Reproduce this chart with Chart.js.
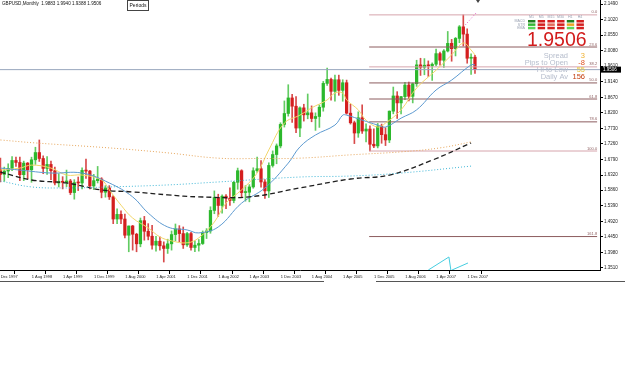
<!DOCTYPE html>
<html>
<head>
<meta charset="utf-8">
<script src="https://cdn.jsdelivr.net/npm/chart.js@4.4.1/dist/chart.umd.min.js"></script>
<style>
html, body { margin: 0; padding: 0; background: #fff; }
canvas { display: block; }
</style>
</head>
<body>
<canvas id="chart" width="625" height="391"></canvas>
<script>
// GBPUSD monthly bars, bar 0 = Dec 1997 ... bar 122 = Feb 2008
var opens = [1.6480,1.6340,1.6440,1.6520,1.6760,1.6700,1.6330,1.6680,1.6480,1.6780,1.7000,1.6820,1.6520,
  1.6640,1.6450,1.6080,1.6120,1.6100,1.6140,1.5790,1.6090,1.6080,1.6460,1.6440,1.5990,
  1.6150,1.6200,1.5800,1.5930,1.5660,1.4990,1.5130,1.4990,1.4500,1.4780,1.4530,1.4240,
  1.4940,1.4620,1.4470,1.4200,1.4320,1.4180,1.4100,1.4240,1.4520,1.4690,1.4550,1.4210,
  1.4550,1.4130,1.4200,1.4250,1.4580,1.4630,1.5250,1.5640,1.5400,1.5680,1.5620,1.5550,
  1.6100,1.6450,1.5790,1.5800,1.5960,1.6450,1.6510,1.6110,1.5840,1.6610,1.6940,1.7200,
  1.7850,1.8180,1.8650,1.8400,1.7740,1.8350,1.8140,1.8200,1.8030,1.8090,1.8370,1.9090,
  1.9210,1.8850,1.9200,1.8880,1.9110,1.8190,1.7900,1.7590,1.8050,1.7650,1.7710,1.7250,
  1.7200,1.7800,1.7540,1.7380,1.8250,1.8710,1.8500,1.8690,1.9040,1.8700,1.9080,1.9650,
  1.9580,1.9640,1.9620,1.9670,1.9990,1.9790,2.0070,2.0300,2.0140,2.0450,2.0800,2.0580,
  1.9850,1.9883];
var highs = [1.6830,1.6560,1.6660,1.6880,1.6860,1.6860,1.6740,1.6700,1.6860,1.7160,1.7380,1.6900,1.6880,
  1.6740,1.6560,1.6360,1.6270,1.6470,1.6190,1.6180,1.6260,1.6540,1.6800,1.6460,1.6340,
  1.6580,1.6240,1.6000,1.6000,1.5700,1.5300,1.5240,1.5140,1.4780,1.4800,1.4560,1.5020,
  1.5070,1.4850,1.4800,1.4470,1.4450,1.4300,1.4380,1.4630,1.4840,1.4790,1.4750,1.4590,
  1.4590,1.4330,1.4370,1.4630,1.4700,1.5360,1.5840,1.5740,1.5720,1.5730,1.5930,1.6130,
  1.6530,1.6480,1.6000,1.6030,1.6540,1.6860,1.6760,1.6180,1.6690,1.7050,1.7260,1.7900,
  1.8560,1.9050,1.8760,1.8690,1.8380,1.8460,1.8770,1.8410,1.8200,1.8440,1.9150,1.9550,
  1.9250,1.9340,1.9340,1.9200,1.9190,1.8460,1.7950,1.8230,1.8440,1.7870,1.7810,1.7720,
  1.7880,1.7860,1.7750,1.8260,1.8980,1.8840,1.8700,1.9120,1.9130,1.9100,1.9790,1.9850,
  1.9840,1.9770,1.9710,2.0130,2.0040,2.0110,2.0660,2.0420,2.0480,2.0840,2.1161,2.0740,
  1.9980,1.9940];
var lows = [1.6110,1.6130,1.6240,1.6450,1.6580,1.6150,1.6150,1.6210,1.6100,1.6640,1.6730,1.6360,1.6340,
  1.6180,1.6020,1.5960,1.5900,1.5970,1.5730,1.5590,1.5850,1.5900,1.6220,1.5900,1.5880,
  1.6080,1.5630,1.5650,1.5580,1.4850,1.4850,1.4850,1.4420,1.4000,1.4050,1.4000,1.4150,
  1.4350,1.4360,1.4080,1.4020,1.4050,1.3690,1.3950,1.4050,1.4330,1.4300,1.4100,1.4160,
  1.4050,1.4000,1.4020,1.4220,1.4400,1.4560,1.5150,1.5070,1.5170,1.5300,1.5400,1.5480,
  1.5890,1.5660,1.5530,1.5510,1.5920,1.6400,1.5950,1.5610,1.5640,1.6560,1.6660,1.7140,
  1.7770,1.8100,1.7910,1.7600,1.7480,1.7950,1.8020,1.7930,1.7670,1.7760,1.8250,1.9030,
  1.8580,1.8550,1.8730,1.8550,1.8160,1.7860,1.7270,1.7460,1.7580,1.7320,1.7046,1.7150,
  1.7140,1.7280,1.7210,1.7300,1.8170,1.8030,1.8170,1.8600,1.8560,1.8500,1.9000,1.9330,
  1.9350,1.9300,1.9180,1.9620,1.9640,1.9570,2.0040,1.9760,1.9920,2.0320,2.0220,1.9700,
  1.9360,1.9388];
var closes = [1.6340,1.6440,1.6520,1.6760,1.6700,1.6330,1.6680,1.6480,1.6780,1.7000,1.6820,1.6520,1.6640,
  1.6450,1.6080,1.6120,1.6100,1.6140,1.5790,1.6090,1.6080,1.6460,1.6440,1.5990,1.6150,
  1.6200,1.5800,1.5930,1.5660,1.4990,1.5130,1.4990,1.4500,1.4780,1.4530,1.4240,1.4940,
  1.4620,1.4470,1.4200,1.4320,1.4180,1.4100,1.4240,1.4520,1.4690,1.4550,1.4210,1.4550,
  1.4130,1.4200,1.4250,1.4580,1.4630,1.5250,1.5640,1.5400,1.5680,1.5620,1.5550,1.6100,
  1.6450,1.5790,1.5800,1.5960,1.6450,1.6510,1.6110,1.5840,1.6610,1.6940,1.7200,1.7850,
  1.8180,1.8650,1.8400,1.7740,1.8350,1.8140,1.8200,1.8030,1.8090,1.8370,1.9090,1.9210,
  1.8850,1.9200,1.8880,1.9110,1.8190,1.7900,1.7590,1.8050,1.7650,1.7710,1.7250,1.7200,
  1.7800,1.7540,1.7380,1.8250,1.8710,1.8500,1.8690,1.9040,1.8700,1.9080,1.9650,1.9580,
  1.9640,1.9620,1.9670,1.9990,1.9790,2.0070,2.0300,2.0140,2.0450,2.0800,2.0580,1.9850,
  1.9880,1.9506];

var xTickLabels = ['Dec 1997','1 Aug 1998','1 Apr 1999','1 Dec 1999','1 Aug 2000','1 Apr 2001','1 Dec 2001',
  '1 Aug 2002','1 Apr 2003','1 Dec 2003','1 Aug 2004','1 Apr 2005','1 Dec 2005','1 Aug 2006','1 Apr 2007','1 Dec 2007'];
var xTickBars = [0,8,16,24,32,40,48,56,64,72,80,88,96,104,112,120];
var yTickValues = [2.1490,2.1020,2.0550,2.0080,1.9610,1.9140,1.8670,1.8200,1.7730,1.7260,1.6790,
  1.6320,1.5860,1.5390,1.4920,1.4450,1.3980,1.3510];

// moving averages (bar index, price)
var fastMaBars = [0,5,8,13,17,21,26,28,31,34,38,41,44,48,51,55,58,62,66,69,73,77,80,84,86,88,89,92,94,97,99,103,107,112,116,119,121,122];
var fastMaVals = [1.647,1.653,1.662,1.653,1.632,1.632,1.617,1.587,1.541,1.502,1.472,1.445,1.433,1.427,1.442,1.490,1.547,1.587,1.638,1.708,1.789,1.813,1.835,1.859,1.880,1.880,1.859,1.829,1.798,1.777,1.789,1.829,1.895,1.949,1.995,2.031,2.010,1.995];
var midMaBars = [0,5,13,21,28,34,38,43,48,51,56,62,68,74,77,81,86,88,89,93,97,99,103,107,112,116,121,122];
var midMaVals = [1.653,1.647,1.638,1.638,1.608,1.566,1.517,1.475,1.466,1.457,1.475,1.547,1.593,1.668,1.717,1.753,1.783,1.813,1.813,1.798,1.783,1.777,1.804,1.829,1.889,1.919,1.965,1.965];
var slowMaBars = [0,8,17,26,34,43,51,64,77,90,100,111,121];
var slowMaVals = [1.641,1.617,1.608,1.587,1.581,1.572,1.566,1.566,1.593,1.620,1.632,1.677,1.729];
var orangeMaBars = [0,9,28,43,56,67,77,90,103,113,121];
var orangeMaVals = [1.738,1.729,1.714,1.699,1.683,1.682,1.683,1.693,1.702,1.714,1.732];
var cyanMaBars = [0,8,17,28,43,56,77,90,103,121];
var cyanMaVals = [1.614,1.596,1.593,1.596,1.602,1.611,1.626,1.629,1.638,1.659];
var trendBars = [119.5,122.5];
var trendVals = [2.0855,2.1248];
var scribbleBars = [110,115.3,115.8,116,116.1,120.2];
var scribbleVals = [1.3449,1.3842,1.3449,null,1.3449,1.3661];

// fibonacci from the Nov 2005 low to the Nov 2007 high
var fibNames = ['0.0','23.6','38.2','50.0','61.8','78.6','100.0','161.8'];
var fibPrices = [2.1161,2.0190,1.9589,1.9104,1.8618,1.7927,1.7046,1.4460];
var fibFrom = 94.8, fibTo = 153.4;

var bidPrice = 1.9506;
var headerText = 'GBPUSD,Monthly  1.9883 1.9940 1.9388 1.9506';
var frames = ['M1','M5','M15','M30','H1','H4'];
var signalRows = ['MACD','STR','EMA'];
var signalColors = [
  ['#1f7f1f','#d42020','#d42020','#d42020','#1f7f1f','#d42020'],
  ['#34b834','#d42020','#e26a5a','#d42020','#eaa624','#d42020'],
  ['#5cd85c','#d42020','#d42020','#d42020','#5cd85c','#d42020']
];
var statNames = ['Spread','Pips to Open','Hi to Low','Daily Av'];
var statValues = ['3','-8','55','156'];
var statColors = ['#f0b030','#e05020','#e8c840','#c44010'];

Chart.defaults.font.family = '"Liberation Sans", Arial, sans-serif';

function pts(xs, ys) {
  return xs.map(function (x, i) { return { x: x, y: ys[i] }; });
}

var bodyColors = opens.map(function (o, i) { return closes[i] >= o ? '#2cb82c' : '#d41f1f'; });
var wickColors = opens.map(function (o, i) { return closes[i] >= o ? '#62cc62' : '#d84a4a'; });

var datasets = [
  {
    type: 'bar', order: 6, grouped: false, barThickness: 1,
    data: lows.map(function (l, i) { return { x: i, y: [l, highs[i]] }; }),
    backgroundColor: wickColors
  },
  {
    type: 'bar', order: 5, grouped: false, barThickness: 2.6, minBarLength: 1,
    data: opens.map(function (o, i) { return { x: i, y: [o, closes[i]] }; }),
    backgroundColor: bodyColors
  },
  { type: 'line', order: 1, data: [{ x: -1, y: bidPrice }, { x: 160, y: bidPrice }], borderColor: '#97a6bd', borderWidth: 1 },
  { type: 'line', order: 0, data: pts(orangeMaBars, orangeMaVals), borderColor: '#e6a55a', borderWidth: 1, borderDash: [1, 2], tension: 0.4 },
  { type: 'line', order: 0, data: pts(cyanMaBars, cyanMaVals), borderColor: '#3fb6d6', borderWidth: 1, borderDash: [1, 2], tension: 0.4 },
  { type: 'line', order: 0, data: pts(slowMaBars, slowMaVals), borderColor: '#1e1e1e', borderWidth: 1.3, borderDash: [5, 3], tension: 0.4 },
  { type: 'line', order: 0, data: pts(midMaBars, midMaVals), borderColor: '#5d9ad0', borderWidth: 1, tension: 0.4 },
  { type: 'line', order: 0, data: pts(fastMaBars, fastMaVals), borderColor: '#f2d66a', borderWidth: 1, tension: 0.4 },
  { type: 'line', order: 0, data: pts(trendBars, trendVals), borderColor: '#e25ec6', borderWidth: 1, borderDash: [1, 2] },
  { type: 'line', order: 0, data: pts(scribbleBars, scribbleVals), borderColor: '#46cde0', borderWidth: 1, spanGaps: false }
];

fibPrices.forEach(function (p, i) {
  var light = (i === 0 || i === 2 || i === 6);
  datasets.push({
    type: 'line', order: 2,
    data: [{ x: fibFrom, y: p }, { x: fibTo, y: p }],
    borderColor: light ? '#d6a4ac' : '#8c5c5e', borderWidth: 1
  });
});

var overlay = {
  id: 'overlay',
  afterDraw: function (chart) {
    var ctx = chart.ctx, ys = chart.scales.y, xs = chart.scales.x;
    ctx.save();

    // header + periods button
    ctx.fillStyle = '#111';
    ctx.textBaseline = 'middle';
    ctx.textAlign = 'left';
    ctx.font = '4.6px "Liberation Sans"';
    ctx.fillText(headerText, 2, 4);
    ctx.fillStyle = '#fff';
    ctx.fillRect(127.5, 0.5, 21, 10);
    ctx.strokeStyle = '#444';
    ctx.lineWidth = 1;
    ctx.strokeRect(127.5, 0.5, 21, 10);
    ctx.fillStyle = '#111';
    ctx.font = '5px "Liberation Sans"';
    ctx.textAlign = 'center';
    ctx.fillText('Periods', 138, 5.8);

    // shift marker
    ctx.fillStyle = '#444';
    ctx.beginPath();
    ctx.moveTo(476, 0); ctx.lineTo(480, 0); ctx.lineTo(478, 3); ctx.closePath();
    ctx.fill();

    // fib level labels
    ctx.font = '4px "Liberation Sans"';
    ctx.textAlign = 'right';
    ctx.textBaseline = 'alphabetic';
    ctx.fillStyle = '#8c5c5e';
    fibPrices.forEach(function (p, i) {
      ctx.fillText(fibNames[i], xs.getPixelForValue(fibTo), ys.getPixelForValue(p) - 1.5);
    });

    // signal panel
    ctx.font = '3.6px "Liberation Sans"';
    ctx.fillStyle = '#9aa2b2';
    ctx.textAlign = 'center';
    frames.forEach(function (f, c) { ctx.fillText(f, 531.5 + c * 9.7, 17.5); });
    ctx.textAlign = 'right';
    signalRows.forEach(function (r, rIdx) {
      var y = 20 + rIdx * 3.4;
      ctx.fillStyle = '#9aa2b2';
      ctx.fillText(r, 525, y + 2.4);
      signalColors[rIdx].forEach(function (col, c) {
        ctx.fillStyle = col;
        ctx.fillRect(528 + c * 9.7, y, 7.4, 2.5);
      });
    });

    // big price
    ctx.font = '19.5px "Liberation Sans"';
    ctx.textAlign = 'left';
    ctx.fillStyle = '#d21c1c';
    ctx.fillText(bidPrice.toFixed(4), 527, 46);

    // stats
    ctx.font = '7.5px "Liberation Sans"';
    statNames.forEach(function (n, i) {
      var y = 58 + i * 7;
      ctx.textAlign = 'right';
      ctx.fillStyle = '#b6bdcc';
      ctx.fillText(n, 568, y);
      ctx.fillStyle = statColors[i];
      ctx.fillText(statValues[i], 585, y);
    });

    // bid price tag on the axis
    var by = ys.getPixelForValue(bidPrice);
    ctx.fillStyle = '#000';
    ctx.fillRect(601, by - 3, 20, 6);
    ctx.fillStyle = '#fff';
    ctx.font = '4.5px "Liberation Sans"';
    ctx.textAlign = 'left';
    ctx.textBaseline = 'middle';
    ctx.fillText(bidPrice.toFixed(4), 603, by + 0.3);

    // window bottom edge
    ctx.fillStyle = '#555';
    ctx.fillRect(0, 281, 324, 1);
    ctx.fillRect(376, 281, 249, 1);
    ctx.restore();
  }
};

new Chart(document.getElementById('chart'), {
  data: { datasets: datasets },
  plugins: [overlay],
  options: {
    responsive: false,
    animation: false,
    events: [],
    layout: { autoPadding: false, padding: { left: 0, top: 0, right: 0, bottom: 110 } },
    elements: { point: { radius: 0 }, line: { fill: false } },
    plugins: { legend: { display: false }, tooltip: { enabled: false } },
    scales: {
      x: {
        type: 'linear', offset: false, min: -0.103, max: 154.14,
        afterFit: function (s) { s.height = 11; s.paddingLeft = 0; s.paddingRight = 0; },
        afterBuildTicks: function (s) {
          s.ticks = xTickBars.map(function (b) { return { value: b - 0.45 }; });
        },
        border: { display: true, color: '#000', width: 1 },
        grid: { drawOnChartArea: false, drawTicks: true, tickLength: 4, color: '#000' },
        ticks: {
          autoSkip: false, maxRotation: 0, align: 'start', labelOffset: 2, padding: 0,
          color: '#222', font: { size: 4 },
          callback: function (v, i) { return xTickLabels[i]; }
        }
      },
      y: {
        type: 'linear', position: 'right', min: 1.3449, max: 2.1611,
        afterFit: function (s) { s.width = 25; s.paddingTop = 0; s.paddingBottom = 0; },
        afterBuildTicks: function (s) {
          s.ticks = yTickValues.map(function (v) { return { value: v }; });
        },
        border: { display: true, color: '#000', width: 1 },
        grid: { drawOnChartArea: false, drawTicks: true, tickLength: 3, color: '#000' },
        ticks: {
          padding: 1, color: '#222', font: { size: 4.5 },
          callback: function (v) { return Number(v).toFixed(4); }
        }
      }
    }
  }
});
</script>
</body>
</html>
